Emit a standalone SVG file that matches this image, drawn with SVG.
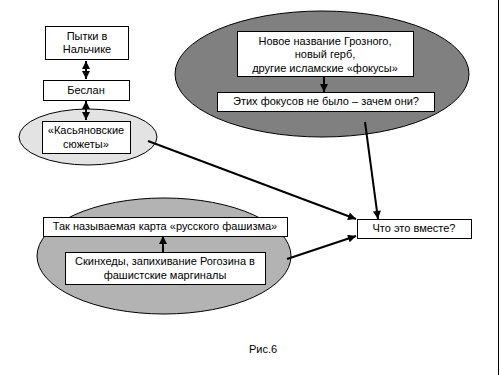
<svg xmlns="http://www.w3.org/2000/svg" width="500" height="375" viewBox="0 0 500 375">
<defs>
<style>
.box{fill:#fff;stroke:#000;stroke-width:1}
.ell{stroke:#000;stroke-width:1}
.t{font-family:"Liberation Sans",Arial,sans-serif;font-size:11px;fill:#000;text-anchor:middle}
.c{stroke:#000;stroke-width:2;fill:none}
</style>
<marker id="ah" viewBox="0 0 10 10" refX="10" refY="5" markerWidth="9" markerHeight="8" markerUnits="userSpaceOnUse" orient="auto-start-reverse">
<path d="M0,0 L10,5 L0,10 Z" fill="#000"/>
</marker>
</defs>
<rect width="500" height="375" fill="#fff"/>
<line x1="498.5" y1="0" x2="498.5" y2="375" stroke="#000" stroke-width="1"/>

<g id="ellipse-kasyanov"><ellipse class="ell" cx="88" cy="137" rx="69" ry="28" fill="#e3e3e3"/></g>
<g id="ellipse-grozny"><ellipse class="ell" cx="322" cy="74" rx="147" ry="63" fill="#808080"/></g>
<g id="ellipse-fascism"><ellipse class="ell" cx="164" cy="256" rx="127" ry="58" fill="#b3b3b3"/></g>

<g id="connectors">
<line class="c" x1="86" y1="61" x2="86" y2="79" marker-start="url(#ah)" marker-end="url(#ah)"/>
<line class="c" x1="86" y1="101" x2="86" y2="120" marker-start="url(#ah)" marker-end="url(#ah)"/>
<line class="c" x1="324" y1="76" x2="324" y2="92" marker-end="url(#ah)"/>
<line class="c" x1="163" y1="252" x2="163" y2="236" marker-end="url(#ah)"/>
<line class="c" x1="148" y1="141" x2="356" y2="219" marker-end="url(#ah)"/>
<line class="c" x1="365" y1="122" x2="378" y2="219" marker-end="url(#ah)"/>
<line class="c" x1="287" y1="259" x2="356" y2="236" marker-end="url(#ah)"/>
</g>

<g id="n-nalchik"><rect class="box" x="45.5" y="26.5" width="83" height="33"/>
<text class="t" x="87" y="40">Пытки в</text><text class="t" x="87" y="53">Нальчике</text></g>
<g id="n-beslan"><rect class="box" x="43.5" y="80.5" width="86" height="20"/>
<text class="t" x="86" y="94">Беслан</text></g>
<g id="n-kasyanov"><rect class="box" x="42.5" y="121.5" width="88" height="32"/>
<text class="t" x="86" y="134">«Касьяновские</text><text class="t" x="86" y="148">сюжеты»</text></g>
<g id="n-grozny"><rect class="box" x="237.5" y="31.5" width="176" height="45"/>
<text class="t" x="325" y="45">Новое название Грозного,</text><text class="t" x="325" y="58">новый герб,</text><text class="t" x="325" y="72">другие исламские «фокусы»</text></g>
<g id="n-focus"><rect class="box" x="217.5" y="92.5" width="217" height="19"/>
<text class="t" x="326" y="105">Этих фокусов не было – зачем они?</text></g>
<g id="n-together"><rect class="box" x="357.5" y="219.5" width="114" height="19"/>
<text class="t" x="414" y="232">Что это вместе?</text></g>
<g id="n-map"><rect class="box" x="43.5" y="217.5" width="244" height="19"/>
<text class="t" x="165" y="230">Так называемая карта «русского фашизма»</text></g>
<g id="n-skin"><rect class="box" x="65.5" y="252.5" width="200" height="32"/>
<text class="t" x="165" y="265">Скинхеды, запихивание Рогозина в</text><text class="t" x="165" y="279">фашистские маргиналы</text></g>
<text class="t" x="263" y="353">Рис.6</text>
</svg>
